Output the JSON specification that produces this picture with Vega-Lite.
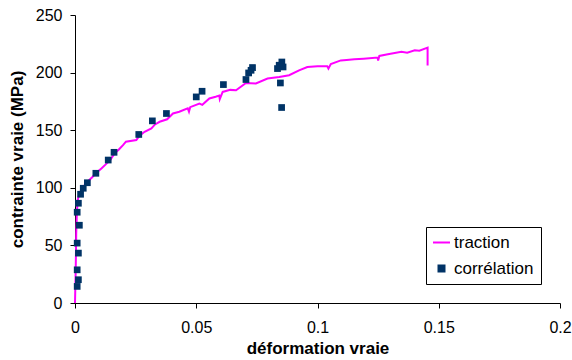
{
  "$schema": "https://vega.github.io/schema/vega-lite/v6.json",
  "autosize": "none",
  "width": 485,
  "height": 288,
  "padding": {"left": 75, "top": 15, "right": 12, "bottom": 57},
  "background": "white",
  "config": {
    "view": {"stroke": null},
    "axis": {
      "grid": false,
      "domainColor": "black",
      "tickColor": "black",
      "tickSize": 5,
      "labelFont": "Liberation Sans",
      "labelFontSize": 16,
      "labelColor": "black",
      "titleFont": "Liberation Sans",
      "titleFontSize": 17,
      "titleFontWeight": "bold",
      "titleColor": "black"
    }
  },
  "data": {
    "values": [
      {"series": "traction", "x": 0, "y": 0},
      {"series": "traction", "x": 0.0003, "y": 30},
      {"series": "traction", "x": 0.0005, "y": 60},
      {"series": "traction", "x": 0.0008, "y": 80},
      {"series": "traction", "x": 0.0012, "y": 90},
      {"series": "traction", "x": 0.002, "y": 96},
      {"series": "traction", "x": 0.0035, "y": 101},
      {"series": "traction", "x": 0.005, "y": 105},
      {"series": "traction", "x": 0.007, "y": 109},
      {"series": "traction", "x": 0.0086, "y": 112.6},
      {"series": "traction", "x": 0.011, "y": 117},
      {"series": "traction", "x": 0.013, "y": 121},
      {"series": "traction", "x": 0.0145, "y": 124},
      {"series": "traction", "x": 0.0164, "y": 130},
      {"series": "traction", "x": 0.018, "y": 133},
      {"series": "traction", "x": 0.0198, "y": 137},
      {"series": "traction", "x": 0.021, "y": 140},
      {"series": "traction", "x": 0.0253, "y": 141.4},
      {"series": "traction", "x": 0.0265, "y": 145},
      {"series": "traction", "x": 0.0287, "y": 148.6},
      {"series": "traction", "x": 0.0315, "y": 151.5},
      {"series": "traction", "x": 0.033, "y": 155},
      {"series": "traction", "x": 0.0349, "y": 157.3},
      {"series": "traction", "x": 0.038, "y": 159.5},
      {"series": "traction", "x": 0.0404, "y": 164.5},
      {"series": "traction", "x": 0.043, "y": 166},
      {"series": "traction", "x": 0.0465, "y": 168.9},
      {"series": "traction", "x": 0.047, "y": 166},
      {"series": "traction", "x": 0.0475, "y": 170},
      {"series": "traction", "x": 0.0513, "y": 173.2},
      {"series": "traction", "x": 0.0525, "y": 172},
      {"series": "traction", "x": 0.0554, "y": 177.5},
      {"series": "traction", "x": 0.058, "y": 179},
      {"series": "traction", "x": 0.0595, "y": 180},
      {"series": "traction", "x": 0.0597, "y": 177},
      {"series": "traction", "x": 0.0609, "y": 183.2},
      {"series": "traction", "x": 0.064, "y": 185},
      {"series": "traction", "x": 0.0664, "y": 184.7},
      {"series": "traction", "x": 0.0705, "y": 191},
      {"series": "traction", "x": 0.0746, "y": 190.5},
      {"series": "traction", "x": 0.0794, "y": 194.8},
      {"series": "traction", "x": 0.0842, "y": 196.2},
      {"series": "traction", "x": 0.0883, "y": 197.7},
      {"series": "traction", "x": 0.0924, "y": 202},
      {"series": "traction", "x": 0.0958, "y": 204.9},
      {"series": "traction", "x": 0.1, "y": 205.5},
      {"series": "traction", "x": 0.104, "y": 205.6},
      {"series": "traction", "x": 0.1045, "y": 203.5},
      {"series": "traction", "x": 0.1055, "y": 207.5},
      {"series": "traction", "x": 0.1096, "y": 210.6},
      {"series": "traction", "x": 0.112, "y": 211},
      {"series": "traction", "x": 0.1152, "y": 211.5},
      {"series": "traction", "x": 0.119, "y": 212},
      {"series": "traction", "x": 0.1248, "y": 213},
      {"series": "traction", "x": 0.125, "y": 210.5},
      {"series": "traction", "x": 0.1255, "y": 214.5},
      {"series": "traction", "x": 0.129, "y": 216},
      {"series": "traction", "x": 0.1346, "y": 218.1},
      {"series": "traction", "x": 0.137, "y": 217.3},
      {"series": "traction", "x": 0.1401, "y": 219.3},
      {"series": "traction", "x": 0.142, "y": 219},
      {"series": "traction", "x": 0.1454, "y": 221.7},
      {"series": "traction", "x": 0.1454, "y": 206.2},
      {"series": "corrélation", "x": 0.0009, "y": 14.4},
      {"series": "corrélation", "x": 0.0014, "y": 20.2},
      {"series": "corrélation", "x": 0.0009, "y": 28.8},
      {"series": "corrélation", "x": 0.0014, "y": 43.3},
      {"series": "corrélation", "x": 0.0009, "y": 52},
      {"series": "corrélation", "x": 0.0018, "y": 67.5},
      {"series": "corrélation", "x": 0.0009, "y": 78.8},
      {"series": "corrélation", "x": 0.0014, "y": 86.6},
      {"series": "corrélation", "x": 0.0023, "y": 94.4},
      {"series": "corrélation", "x": 0.0034, "y": 99.6},
      {"series": "corrélation", "x": 0.0051, "y": 104.4},
      {"series": "corrélation", "x": 0.0086, "y": 112.6},
      {"series": "corrélation", "x": 0.0137, "y": 124.1},
      {"series": "corrélation", "x": 0.0161, "y": 130.8},
      {"series": "corrélation", "x": 0.0263, "y": 146.3},
      {"series": "corrélation", "x": 0.0319, "y": 158.1},
      {"series": "corrélation", "x": 0.0377, "y": 164.5},
      {"series": "corrélation", "x": 0.05, "y": 178.9},
      {"series": "corrélation", "x": 0.0524, "y": 183.8},
      {"series": "corrélation", "x": 0.0612, "y": 189.6},
      {"series": "corrélation", "x": 0.0705, "y": 194},
      {"series": "corrélation", "x": 0.0716, "y": 199.7},
      {"series": "corrélation", "x": 0.0726, "y": 202},
      {"series": "corrélation", "x": 0.0732, "y": 204.4},
      {"series": "corrélation", "x": 0.0835, "y": 203.5},
      {"series": "corrélation", "x": 0.0842, "y": 206.4},
      {"series": "corrélation", "x": 0.0853, "y": 209.2},
      {"series": "corrélation", "x": 0.0858, "y": 204.9},
      {"series": "corrélation", "x": 0.0847, "y": 191},
      {"series": "corrélation", "x": 0.0852, "y": 169.7}
    ]
  },
  "encoding": {
    "x": {
      "field": "x", "type": "quantitative",
      "scale": {"domain": [0, 0.2], "nice": false, "zero": false},
      "axis": {"values": [0, 0.05, 0.1, 0.15, 0.2], "format": "~g", "title": "déformation vraie", "labelPadding": 11, "titlePadding": 5, "labelFlush": false}
    },
    "y": {
      "field": "y", "type": "quantitative",
      "scale": {"domain": [0, 250], "nice": false},
      "axis": {"values": [0, 50, 100, 150, 200, 250], "title": "contrainte vraie (MPa)", "labelPadding": 8, "titlePadding": 9, "labelFlush": false}
    },
    "color": {
      "field": "series", "type": "nominal",
      "scale": {"domain": ["traction", "corrélation"], "range": ["#FF00FF", "#003366"]},
      "legend": {
        "title": null,
        "orient": "none",
        "legendX": 351,
        "legendY": 212,
        "fillColor": "white",
        "strokeColor": "black",
        "padding": 7,
        "labelFont": "Liberation Sans",
        "labelFontSize": 17,
        "labelColor": "black",
        "symbolSize": 289,
        "labelOffset": 4,
        "rowPadding": 8,
        "encode": {
          "symbols": {
            "update": {
              "shape": {"signal": "datum.value === 'traction' ? 'stroke' : 'square'"},
              "size": {"signal": "datum.value === 'traction' ? 289 : 36"},
              "fill": {"signal": "datum.value === 'traction' ? 'transparent' : '#003366'"},
              "stroke": {"signal": "datum.value === 'traction' ? '#FF00FF' : 'transparent'"},
              "strokeWidth": {"value": 2},
              "opacity": {"value": 1}
            }
          }
        }
      }
    }
  },
  "layer": [
    {
      "transform": [{"filter": "datum.series === 'traction'"}],
      "mark": {"type": "line", "strokeWidth": 2},
      "encoding": {"order": {"value": null}}
    },
    {
      "transform": [{"filter": "datum.series === 'corrélation'"}],
      "mark": {"type": "point", "shape": "square", "filled": true, "size": 45, "opacity": 1}
    }
  ]
}
